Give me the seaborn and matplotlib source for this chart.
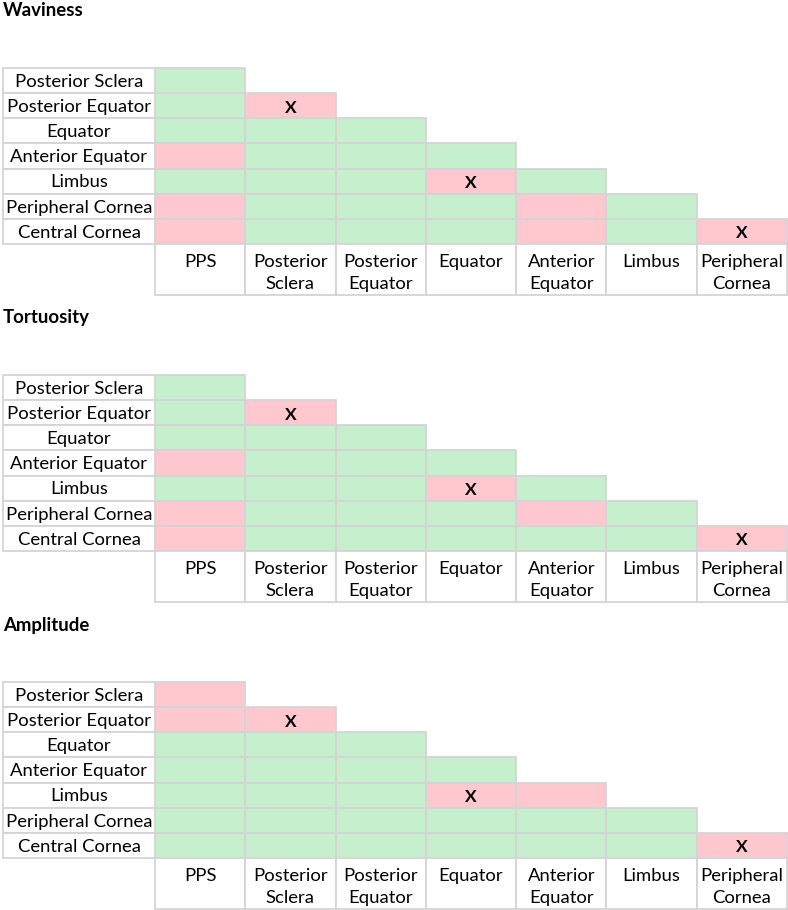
import numpy as np
import pandas as pd
import matplotlib
matplotlib.use("Agg")
import matplotlib.pyplot as plt
import seaborn as sns
from matplotlib.colors import ListedColormap
from matplotlib.patches import Rectangle

# ---------------- data ----------------
titles = ["Waviness", "Tortuosity", "Amplitude"]
row_labels = ["Posterior Sclera", "Posterior Equator", "Equator", "Anterior Equator",
              "Limbus", "Peripheral Cornea", "Central Cornea"]
col_labels = ["PPS", "Posterior\nSclera", "Posterior\nEquator", "Equator",
              "Anterior\nEquator", "Limbus", "Peripheral\nCornea"]

# 1 = green, 0 = pink (lower triangle, row i has i+1 cells)
waviness = [
    [1],
    [1, 0],
    [1, 1, 1],
    [0, 1, 1, 1],
    [1, 1, 1, 0, 1],
    [0, 1, 1, 1, 0, 1],
    [0, 1, 1, 1, 0, 1, 0],
]
tortuosity = [
    [1],
    [1, 0],
    [1, 1, 1],
    [0, 1, 1, 1],
    [1, 1, 1, 0, 1],
    [0, 1, 1, 1, 0, 1],
    [0, 1, 1, 1, 1, 1, 0],
]
amplitude = [
    [0],
    [0, 0],
    [1, 1, 1],
    [1, 1, 1, 1],
    [1, 1, 1, 0, 0],
    [1, 1, 1, 1, 1, 1],
    [1, 1, 1, 1, 1, 1, 0],
]
x_marks = [(1, 1), (4, 3), (6, 6)]  # (row, col)

panels = [waviness, tortuosity, amplitude]

# ---------------- styling ----------------
GREEN = "#C6EFCE"
PINK = "#FFC7CE"
GRID = "#D4D4D4"
TXT = "#000000"
FONT = "Lato"
FS = 13.3

W, H = 788, 910
fig = plt.figure(figsize=(W / 100, H / 100), dpi=100)

n = len(row_labels)
table_left, table_right = 3, 787
label_w_px = 152
cell_w_px = (table_right - table_left - label_w_px) / n
row_h_px = 25.15
header_h_px = 51
L = label_w_px / cell_w_px
hdr = header_h_px / row_h_px
panel_step = 307
title_y0 = 11
table_top0 = 68

for k, (title, vals) in enumerate(zip(titles, panels)):
    top = table_top0 + k * panel_step
    height_px = n * row_h_px + header_h_px
    ax = fig.add_axes([table_left / W, 1 - (top + height_px) / H,
                       (table_right - table_left) / W, height_px / H])
    mat = np.full((n, n), np.nan)
    for i, row in enumerate(vals):
        for j, v in enumerate(row):
            mat[i, j] = v
    df = pd.DataFrame(mat, index=row_labels, columns=col_labels)
    mask = np.isnan(mat)
    sns.heatmap(df, mask=mask, cmap=ListedColormap([PINK, GREEN]), vmin=0, vmax=1,
                cbar=False, linewidths=0, ax=ax)
    ax.set_xlim(-L, n)
    ax.set_ylim(n + hdr, 0)
    ax.set_xticks([])
    ax.set_yticks([])
    ax.set_xlabel("")
    ax.set_ylabel("")
    for s in ax.spines.values():
        s.set_visible(False)

    # outlines of the coloured cells
    for i in range(n):
        for j in range(n):
            if not mask[i, j]:
                ax.add_patch(Rectangle((j, i), 1, 1, facecolor="none", edgecolor=GRID,
                                       lw=1.3, zorder=3, clip_on=False))

    # row label cells
    for i, lab in enumerate(row_labels):
        ax.add_patch(Rectangle((-L, i), L, 1, facecolor="white", edgecolor=GRID,
                               lw=1.3, zorder=3, clip_on=False))
        ax.text(-L / 2, i + 0.55, lab, ha="center", va="center", fontsize=FS,
                family=FONT, color=TXT, zorder=4)
    # column label cells
    for j, lab in enumerate(col_labels):
        ax.add_patch(Rectangle((j, n), 1, hdr, facecolor="white", edgecolor=GRID,
                               lw=1.3, zorder=3, clip_on=False))
        for li, line in enumerate(lab.split("\n")):
            ax.text(j + 0.5, n + 0.72 + li * 0.88, line, ha="center", va="center",
                    fontsize=FS, family=FONT, color=TXT, zorder=4)
    # X marks
    for (r, c) in x_marks:
        ax.text(c + 0.5, r + 0.58, "X", ha="center", va="center", fontsize=12.5,
                family=FONT, fontweight="bold", color="black", zorder=4)

    fig.text(3 / W, 1 - (title_y0 + k * panel_step) / H, title, ha="left", va="center",
             fontsize=13.4, family=FONT, fontweight="bold", color=TXT)

fig.savefig("out.png", dpi=100, facecolor="white")
